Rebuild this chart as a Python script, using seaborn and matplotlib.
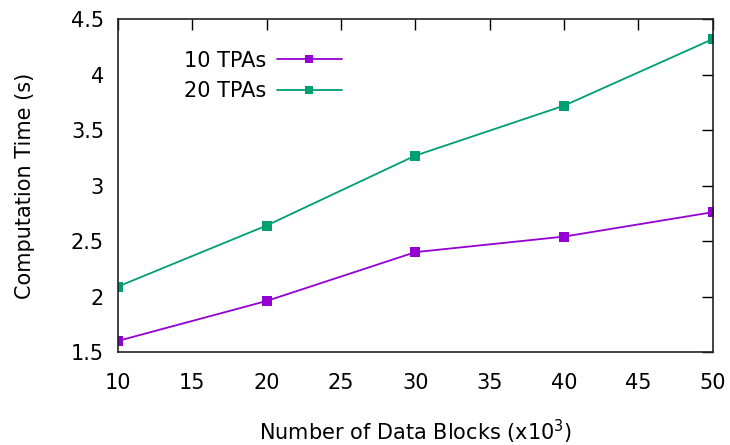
import matplotlib
matplotlib.use("Agg")
import matplotlib.pyplot as plt
import seaborn as sns
import pandas as pd
from matplotlib.lines import Line2D

blocks = [10, 20, 30, 40, 50]
tpa10 = [1.60, 1.96, 2.40, 2.54, 2.76]
tpa20 = [2.09, 2.64, 3.27, 3.72, 4.32]
series_names = ["10 TPAs", "20 TPAs"]
colors = ["#9400D3", "#009E73"]

df = pd.DataFrame({
    "blocks": blocks * 2,
    "time": tpa10 + tpa20,
    "series": [series_names[0]] * len(blocks) + [series_names[1]] * len(blocks),
})

sns.set_style("white")
plt.rcParams['font.family'] = ['DejaVu Sans']
plt.rcParams['text.color'] = 'black'
plt.rcParams['axes.labelcolor'] = 'black'

fig = plt.figure(figsize=(7.3, 4.45), dpi=100)
ax = fig.add_axes([0.1616, 0.209, 0.8147, 0.748])

sns.lineplot(data=df, x="blocks", y="time", hue="series", palette=colors,
             marker="s", markersize=7, markeredgewidth=0, linewidth=1.3,
             ax=ax, legend=False)

ax.set_xlim(10, 50)
ax.set_ylim(1.5, 4.5)
ax.set_xticks([10, 15, 20, 25, 30, 35, 40, 45, 50])
ax.set_yticks([1.5, 2, 2.5, 3, 3.5, 4, 4.5])
ax.set_yticklabels(["1.5", "2", "2.5", "3", "3.5", "4", "4.5"])
ax.tick_params(axis="both", direction="in", length=8, width=1, labelsize=15, top=True, right=True,
               labeltop=False, labelright=False, colors="black")
ax.tick_params(axis="x", pad=15)
ax.tick_params(axis="y", pad=10)
for s in ax.spines.values():
    s.set_color("#222222")
    s.set_linewidth(1.2)

ax.set_xlabel("Number of Data Blocks (x10$^3$)", fontsize=15, labelpad=18)
ax.set_ylabel("Computation Time (s)", fontsize=15, labelpad=26)

handles = [Line2D([0], [0], color=c, marker="s", markersize=6, markeredgewidth=0, lw=1.3)
           for c in colors]
ax.legend(handles, series_names, loc="upper left", bbox_to_anchor=(0.08, 0.962),
          frameon=False, markerfirst=False, fontsize=15, handlelength=3.1,
          labelspacing=0.5, handletextpad=0.5)

fig.savefig("out.png", dpi=100)
